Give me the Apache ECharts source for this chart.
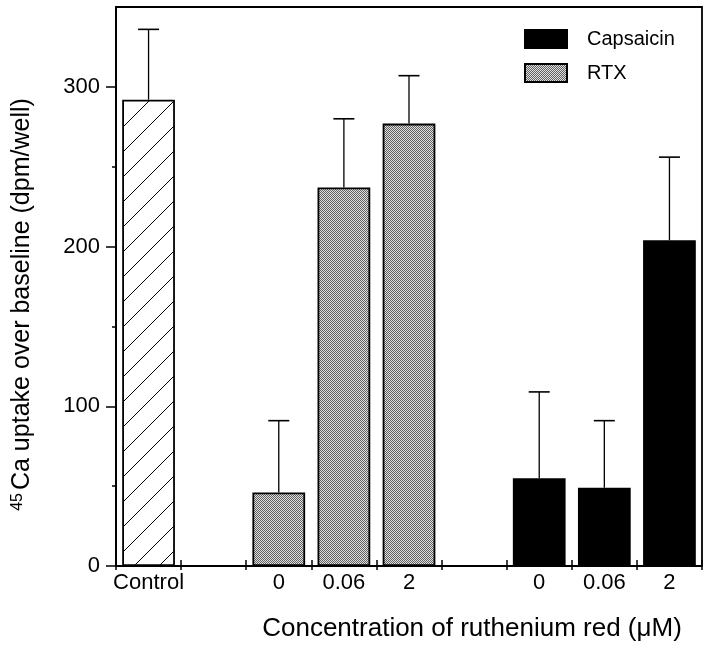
<!DOCTYPE html>
<html>
<head>
<meta charset="utf-8">
<script src="https://cdn.jsdelivr.net/npm/echarts@6/dist/echarts.min.js"></script>
<style>
  html, body { margin: 0; padding: 0; background: #fff; }
  #chart { width: 711px; height: 649px; }
</style>
</head>
<body>
<div id="chart"></div>
<script>
// ---- data ----
const categories = ['Control', '', '0', '0.06', '2', '', '0', '0.06', '2'];
const controlValues = [292, '-', '-', '-', '-', '-', '-', '-', '-'];
const rtxValues = ['-', '-', 46, 237, 277, '-', '-', '-', '-'];
const capsaicinValues = ['-', '-', '-', '-', '-', '-', 55, 49, 204];
const errorValues = [44, '-', 45, 43, 30, '-', 54, 42, 52];
const yMajorTicks = [0, 100, 200, 300];
const yMinorTicks = [50, 150, 250];

// ---- fill patterns ----
function hatchPattern() {
  const s = 25;
  const c = document.createElement('canvas');
  c.width = s; c.height = s;
  const g = c.getContext('2d');
  g.fillStyle = '#fff'; g.fillRect(0, 0, s, s);
  g.strokeStyle = '#000'; g.lineWidth = 1;
  g.beginPath();
  g.moveTo(0, s); g.lineTo(s, 0);
  g.moveTo(-5, 5); g.lineTo(5, -5);
  g.moveTo(s - 5, s + 5); g.lineTo(s + 5, s - 5);
  g.stroke();
  return c;
}
function dotPattern() {
  const c = document.createElement('canvas');
  c.width = 2; c.height = 2;
  const g = c.getContext('2d');
  g.fillStyle = '#e0e0e0'; g.fillRect(0, 0, 2, 2);
  g.fillStyle = '#606060';
  g.fillRect(0, 0, 1, 1); g.fillRect(1, 1, 1, 1);
  return c;
}

const FONT = "'Liberation Sans', Arial, Helvetica, sans-serif";

// base value for each error bar
const errorData = [];
categories.forEach((c, i) => {
  const base = [controlValues[i], rtxValues[i], capsaicinValues[i]].find(v => v !== '-');
  if (base !== undefined && errorValues[i] !== '-') {
    errorData.push([i, base, base + errorValues[i]]);
  }
});

function renderError(params, api) {
  const x = api.value(0);
  const p0 = api.coord([x, api.value(1)]);
  const p1 = api.coord([x, api.value(2)]);
  const half = 10.5;
  return {
    type: 'group',
    children: [
      { type: 'line', shape: { x1: p0[0], y1: p0[1], x2: p1[0], y2: p1[1] },
        style: { stroke: '#000', lineWidth: 1.3 } },
      { type: 'line', shape: { x1: p1[0] - half, y1: p1[1], x2: p1[0] + half, y2: p1[1] },
        style: { stroke: '#000', lineWidth: 1.6 } }
    ]
  };
}

const chart = echarts.init(document.getElementById('chart'), null, { renderer: 'canvas' });
const barBorder = { borderColor: '#000', borderWidth: 1.8 };

chart.setOption({
  animation: false,
  backgroundColor: '#fff',
  textStyle: { fontFamily: FONT, color: '#000' },
  grid: {
    left: 116, right: 9, top: 7, bottom: 83,
    show: true, borderColor: '#000', borderWidth: 1.8, backgroundColor: 'transparent'
  },
  legend: {
    data: ['Capsaicin', 'RTX'],
    orient: 'vertical',
    left: 519, top: 24,
    itemWidth: 42, itemHeight: 18, itemGap: 14,
    icon: 'rect',
    textStyle: { fontFamily: FONT, fontSize: 20, color: '#000', padding: [0, 0, 0, 15] }
  },
  xAxis: [{
    type: 'category',
    data: categories,
    position: 'bottom',
    axisLine: { lineStyle: { color: '#000', width: 1.6 } },
    axisTick: { show: true, inside: true, length: 6, interval: 0, lineStyle: { color: '#000', width: 1.5 } },
    axisLabel: { interval: 0, margin: 6, fontFamily: FONT, fontSize: 22, color: '#000' },
    splitLine: { show: false },
    name: 'Concentration of ruthenium red (\u03bcM)',
    nameLocation: 'middle',
    nameGap: 50,
    nameTextStyle: { fontFamily: FONT, fontSize: 26, color: '#000', padding: [0, 0, 0, 126] }
  }, {
    type: 'category',
    data: categories,
    position: 'bottom',
    axisLine: { show: false },
    axisTick: { show: true, length: 4, interval: 0, lineStyle: { color: '#000', width: 1.5 } },
    axisLabel: { show: false },
    splitLine: { show: false }
  }],
  yAxis: [{
    type: 'value',
    position: 'left',
    min: 0, max: 350, interval: 100,
    axisLine: { show: true, lineStyle: { color: '#000', width: 2 } },
    axisTick: { show: true, length: 10, customValues: yMajorTicks, lineStyle: { color: '#000', width: 1.5 } },
    axisLabel: { margin: 16, customValues: yMajorTicks, fontFamily: FONT, fontSize: 22, color: '#000' },
    splitLine: { show: false },
    name: '{sup|45}{main|Ca uptake over baseline (dpm/well)}',
    nameLocation: 'middle',
    nameGap: 81,
    nameTextStyle: {
      fontFamily: FONT, color: '#000',
      padding: [0, 36, 0, 0],
      rich: {
        sup: { fontFamily: FONT, fontSize: 16, color: '#000', verticalAlign: 'top', padding: [0, 3, 0, 0] },
        main: { fontFamily: FONT, fontSize: 25, color: '#000' }
      }
    }
  }, {
    type: 'value',
    position: 'left',
    min: 0, max: 350, interval: 50,
    axisLine: { show: false },
    axisTick: { show: true, length: 4, customValues: yMinorTicks, lineStyle: { color: '#000', width: 1.5 } },
    axisLabel: { show: false },
    splitLine: { show: false }
  }],
  series: [
    {
      name: 'Control', type: 'bar', stack: 'g', barCategoryGap: '19%',
      xAxisIndex: 0, yAxisIndex: 0,
      data: controlValues,
      itemStyle: Object.assign({ color: { image: hatchPattern(), repeat: 'repeat' } }, barBorder)
    },
    {
      name: 'RTX', type: 'bar', stack: 'g', barCategoryGap: '19%',
      xAxisIndex: 0, yAxisIndex: 0,
      data: rtxValues,
      itemStyle: Object.assign({ color: { image: dotPattern(), repeat: 'repeat' } }, barBorder)
    },
    {
      name: 'Capsaicin', type: 'bar', stack: 'g', barCategoryGap: '19%',
      xAxisIndex: 0, yAxisIndex: 0,
      data: capsaicinValues,
      itemStyle: Object.assign({ color: '#000' }, barBorder)
    },
    {
      name: 'error', type: 'custom',
      xAxisIndex: 0, yAxisIndex: 0,
      renderItem: renderError,
      data: errorData,
      z: 5,
      silent: true
    }
  ]
});
</script>
</body>
</html>
